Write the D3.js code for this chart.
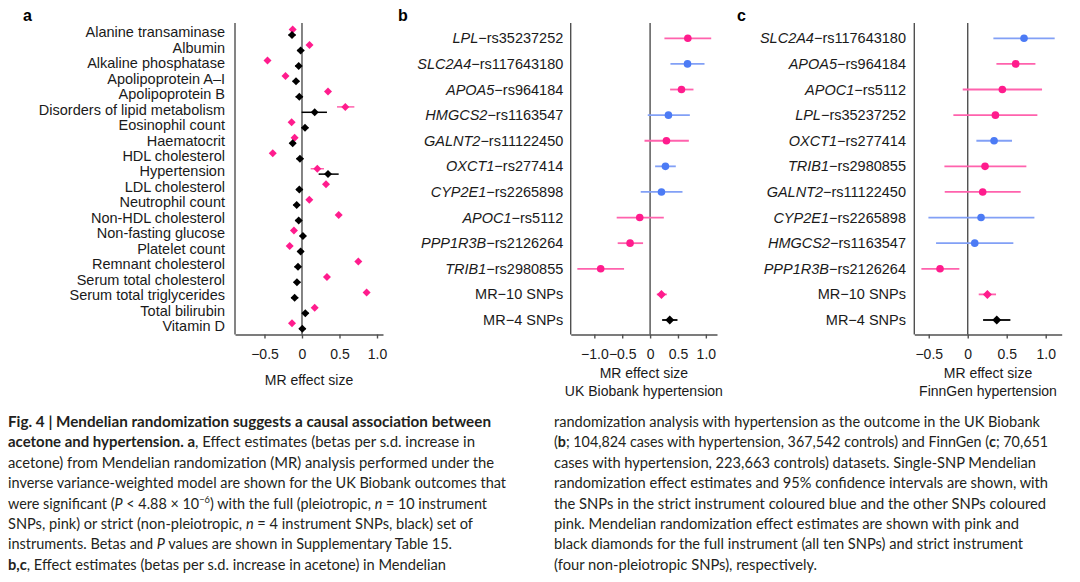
<!DOCTYPE html>
<html><head><meta charset="utf-8">
<script src="https://cdn.jsdelivr.net/npm/d3@7"></script>
<style>body{margin:0;background:#fff}svg{display:block}</style>
</head><body>
<svg id="fig" width="1080" height="582"></svg>
<script>
// ---------- Panel a data ----------
const outcomes = ["Alanine transaminase","Albumin","Alkaline phosphatase","Apolipoprotein A\u2013I","Apolipoprotein B",
  "Disorders of lipid metabolism","Eosinophil count","Haematocrit","HDL cholesterol","Hypertension","LDL cholesterol",
  "Neutrophil count","Non-HDL cholesterol","Non-fasting glucose","Platelet count","Remnant cholesterol",
  "Serum total cholesterol","Serum total triglycerides","Total bilirubin","Vitamin D"];
const fullBeta = [-0.124,0.10,-0.46,-0.22,0.347,0.578,-0.138,-0.098,-0.39,0.204,0.32,0.098,0.489,-0.107,-0.164,0.751,0.333,0.862,0.169,-0.133];
const fullLo   = [-0.15,0.075,-0.485,-0.245,0.32,0.467,-0.165,-0.125,-0.415,0.116,0.295,0.07,0.46,-0.135,-0.19,0.725,0.305,0.835,0.14,-0.16];
const fullHi   = [-0.10,0.125,-0.435,-0.195,0.375,0.698,-0.11,-0.07,-0.365,0.293,0.345,0.125,0.515,-0.08,-0.135,0.78,0.36,0.89,0.195,-0.105];
const strictBeta = [-0.133,-0.018,-0.044,-0.08,-0.036,0.169,0.04,-0.124,-0.027,0.347,-0.036,-0.071,-0.044,0.013,-0.018,-0.053,-0.067,-0.098,0.044,0.004];
const strictLo   = [-0.18,-0.065,-0.09,-0.125,-0.085,-0.005,-0.005,-0.165,-0.075,0.222,-0.08,-0.115,-0.09,-0.03,-0.06,-0.1,-0.11,-0.145,0.0,-0.04];
const strictHi   = [-0.085,0.03,0.0,-0.035,0.01,0.333,0.085,-0.08,0.02,0.489,0.01,-0.025,0.0,0.055,0.025,-0.01,-0.02,-0.05,0.09,0.05];
const ticksA = [-0.5,0,0.5,1.0];

// ---------- Panel b data (UK Biobank) ----------
const genesB = ["LPL","SLC2A4","APOA5","HMGCS2","GALNT2","OXCT1","CYP2E1","APOC1","PPP1R3B","TRIB1"];
const rsidsB = ["rs35237252","rs117643180","rs964184","rs1163547","rs11122450","rs277414","rs2265898","rs5112","rs2126264","rs2980855"];
const strictB = [false,true,false,true,false,true,true,false,false,false];
const betaB = [0.677,0.671,0.563,0.329,0.293,0.275,0.204,-0.186,-0.359,-0.886];
const loB   = [0.257,0.365,0.359,-0.042,-0.10,0.09,-0.168,-0.599,-0.581,-1.305];
const hiB   = [1.096,0.976,0.778,0.713,0.695,0.461,0.581,0.246,-0.126,-0.467];
const mrLabels = ["MR\u221210 SNPs","MR\u22124 SNPs"];
const mrBetaB = [0.204,0.353], mrLoB = [0.12,0.216], mrHiB = [0.30,0.491];
const ticksB = [-1.0,-0.5,0,0.5,1.0];

// ---------- Panel c data (FinnGen) ----------
const genesC = ["SLC2A4","APOA5","APOC1","LPL","OXCT1","TRIB1","GALNT2","CYP2E1","HMGCS2","PPP1R3B"];
const rsidsC = ["rs117643180","rs964184","rs5112","rs35237252","rs277414","rs2980855","rs11122450","rs2265898","rs1163547","rs2126264"];
const strictC = [true,false,false,false,true,false,false,true,true,false];
const betaC = [0.722,0.615,0.444,0.355,0.338,0.222,0.192,0.171,0.09,-0.355];
const loC   = [0.329,0.368,-0.064,-0.184,0.111,-0.299,-0.295,-0.504,-0.406,-0.594];
const hiC   = [1.115,0.868,0.953,0.893,0.568,0.752,0.679,0.855,0.585,-0.107];
const mrBetaC = [0.252,0.372], mrLoC = [0.141,0.197], mrHiC = [0.363,0.547];
const ticksC = [-0.5,0,0.5,1.0];

// ---------- styling ----------
const svg = d3.select("#fig");
const FONT = "'Liberation Sans', Arial, Helvetica, sans-serif";
const PINK = "#ff1c8d", PINK_L = "#ff62ad", BLUE = "#4c7bf5", BLUE_L = "#82a0f6", AX = "#505050", TXT = "#1a1a1a";
const yTop = 23, yAxis = 334.5;
const fmt = d => d === 0 ? "0" : (d < 0 ? "\u2212" : "") + Math.abs(d).toFixed(1);
const diamond = r => `M0,${-r}L${r},0L0,${r}L${-r},0Z`;

function frame(x, ticks, titles, titleY) {
  const [x0] = x.range();
  svg.append("line").attr("x1", x0).attr("x2", x0).attr("y1", yTop).attr("y2", yAxis)
    .attr("stroke", AX).attr("stroke-width", 1.4);
  svg.append("line").attr("x1", x(0)).attr("x2", x(0)).attr("y1", yTop).attr("y2", yAxis)
    .attr("stroke", AX).attr("stroke-width", 1.4);
  const g = svg.append("g").attr("transform", `translate(0,${yAxis})`)
    .call(d3.axisBottom(x).tickValues(ticks).tickFormat(fmt).tickSize(4).tickSizeOuter(0).tickPadding(11));
  g.select(".domain").attr("stroke", AX).attr("stroke-width", 1.4);
  g.selectAll(".tick line").attr("stroke", AX).attr("stroke-width", 1.4);
  g.selectAll(".tick text").attr("font-family", FONT).attr("font-size", 14).attr("fill", TXT);
  const cx = (x.range()[0] + x.range()[1]) / 2;
  titles.forEach((t, i) => svg.append("text").attr("x", cx).attr("y", titleY + i * 17.5)
    .attr("text-anchor", "middle").attr("font-family", FONT).attr("font-size", 14).attr("fill", TXT).text(t));
}

function panelLetter(x, t) {
  svg.append("text").attr("x", x).attr("y", 21).attr("font-family", FONT).attr("font-weight", "bold")
    .attr("font-size", 16).attr("fill", "#000").text(t);
}

// ---------- Panel a ----------
(function () {
  const x = d3.scaleLinear().domain([-0.893, 1.08]).range([235, 383]);
  const y = d3.scalePoint().domain(outcomes).range([32.3, 326]);
  frame(x, ticksA, ["MR effect size"], 385);
  panelLetter(23, "a");
  svg.append("g").selectAll("text").data(outcomes).join("text")
    .attr("x", 225).attr("y", d => y(d)).attr("dy", "0.35em").attr("text-anchor", "end")
    .attr("font-family", FONT).attr("font-size", 14.5).attr("fill", TXT).text(d => d);
  const series = [
    {b: fullBeta, lo: fullLo, hi: fullHi, off: -2.7, c: PINK, lc: PINK_L},
    {b: strictBeta, lo: strictLo, hi: strictHi, off: 2.7, c: "#000", lc: "#000"}
  ];
  series.forEach(s => {
    const g = svg.append("g");
    outcomes.forEach((o, i) => {
      const yy = y(o) + s.off;
      g.append("line").attr("x1", x(s.lo[i])).attr("x2", x(s.hi[i])).attr("y1", yy).attr("y2", yy)
        .attr("stroke", s.lc).attr("stroke-width", 1.5);
      g.append("path").attr("d", diamond(4)).attr("transform", `translate(${x(s.b[i])},${yy})`).attr("fill", s.c);
    });
  });
})();

// ---------- Panels b & c ----------
function snpPanel(cfg) {
  const rows = cfg.genes.map((g, i) => g + "|" + cfg.rsids[i]).concat(mrLabels);
  const x = d3.scaleLinear().domain(cfg.domain).range(cfg.range);
  const y = d3.scalePoint().domain(rows).range([38.3, 320]);
  frame(x, cfg.ticks, ["MR effect size", cfg.title], 378);
  panelLetter(cfg.letterX, cfg.letter);
  const lab = svg.append("g").selectAll("text").data(rows).join("text")
    .attr("x", cfg.labelX).attr("y", d => y(d)).attr("dy", "0.35em").attr("text-anchor", "end")
    .attr("font-family", FONT).attr("font-size", 14.5).attr("fill", TXT);
  lab.each(function (d) {
    const t = d3.select(this);
    if (d.includes("|")) {
      const [g, r] = d.split("|");
      t.append("tspan").attr("font-style", "italic").text(g);
      t.append("tspan").text("\u2212" + r);
    } else t.text(d);
  });
  const g = svg.append("g");
  cfg.genes.forEach((gn, i) => {
    const yy = y(rows[i]);
    const col = cfg.strict[i] ? BLUE : PINK, lcol = cfg.strict[i] ? BLUE_L : PINK_L;
    g.append("line").attr("x1", x(cfg.lo[i])).attr("x2", x(cfg.hi[i])).attr("y1", yy).attr("y2", yy)
      .attr("stroke", lcol).attr("stroke-width", 1.8);
    g.append("circle").attr("cx", x(cfg.beta[i])).attr("cy", yy).attr("r", 3.8).attr("fill", col);
  });
  mrLabels.forEach((m, i) => {
    const yy = y(m);
    const col = i === 0 ? PINK : "#000", lcol = i === 0 ? PINK_L : "#000";
    g.append("line").attr("x1", x(cfg.mlo[i])).attr("x2", x(cfg.mhi[i])).attr("y1", yy).attr("y2", yy)
      .attr("stroke", lcol).attr("stroke-width", 1.8);
    g.append("path").attr("d", diamond(4.5)).attr("transform", `translate(${x(cfg.mb[i])},${yy})`).attr("fill", col);
  });
}
snpPanel({genes: genesB, rsids: rsidsB, strict: strictB, beta: betaB, lo: loB, hi: hiB,
  mb: mrBetaB, mlo: mrLoB, mhi: mrHiB, domain: [-1.424, 1.20], range: [570.7, 717], ticks: ticksB,
  title: "UK Biobank hypertension", letter: "b", letterX: 398, labelX: 563.3});
snpPanel({genes: genesC, rsids: rsidsC, strict: strictC, beta: betaC, lo: loC, hi: hiC,
  mb: mrBetaC, mlo: mrLoC, mhi: mrHiC, domain: [-0.685, 1.205], range: [914.3, 1061.7], ticks: ticksC,
  title: "FinnGen hypertension", letter: "c", letterX: 737, labelX: 906});

// ---------- Caption ----------
const capLeft = [
  [["Fig. 4 | Mendelian randomization suggests a causal association between","b"]],
  [["acetone and hypertension. a","b"],[", Effect estimates (betas per s.d. increase in",""]],
  [["acetone) from Mendelian randomization (MR) analysis performed under the",""]],
  [["inverse variance-weighted model are shown for the UK Biobank outcomes that",""]],
  [["were significant (",""],["P","i"],[" < 4.88 \u00d7 10",""],["\u22126","s"],[") with the full (pleiotropic, ",""],["n","i"],[" = 10 instrument",""]],
  [["SNPs, pink) or strict (non-pleiotropic, ",""],["n","i"],[" = 4 instrument SNPs, black) set of",""]],
  [["instruments. Betas and ",""],["P","i"],[" values are shown in Supplementary Table 15.",""]],
  [["b,c","b"],[", Effect estimates (betas per s.d. increase in acetone) in Mendelian",""]]
];
const capLeftW = [483,467,486,498,479,465,444,438];
const capRight = [
  [["randomization analysis with hypertension as the outcome in the UK Biobank",""]],
  [["(",""],["b","b"],["; 104,824 cases with hypertension, 367,542 controls) and FinnGen (",""],["c","b"],["; 70,651",""]],
  [["cases with hypertension, 223,663 controls) datasets. Single-SNP Mendelian",""]],
  [["randomization effect estimates and 95% confidence intervals are shown, with",""]],
  [["the SNPs in the strict instrument coloured blue and the other SNPs coloured",""]],
  [["pink. Mendelian randomization effect estimates are shown with pink and",""]],
  [["black diamonds for the full instrument (all ten SNPs) and strict instrument",""]],
  [["(four non-pleiotropic SNPs), respectively.",""]]
];
const capRightW = [486,494,482,494,492,465,469,263];
const CAPFONT = "Lato, 'Noto Sans', sans-serif";
function caption(lines, widths, x0) {
  lines.forEach((segs, li) => {
    const t = svg.append("text").attr("x", x0).attr("y", 427 + li * 20.4)
      .attr("font-family", CAPFONT).attr("font-size", 15.5).attr("fill", "#231f20")
      .attr("textLength", widths[li]).attr("lengthAdjust", "spacingAndGlyphs");
    let shifted = false;
    segs.forEach(([s, st]) => {
      const sp = t.append("tspan").text(s);
      if (st === "b") sp.attr("font-weight", "bold");
      if (st === "i") sp.attr("font-style", "italic");
      if (st === "s") { sp.attr("font-size", 10).attr("dy", -6); shifted = true; }
      else if (shifted) { sp.attr("dy", 6); shifted = false; }
    });
  });
}
caption(capLeft, capLeftW, 8);
caption(capRight, capRightW, 554);
</script>
</body></html>
